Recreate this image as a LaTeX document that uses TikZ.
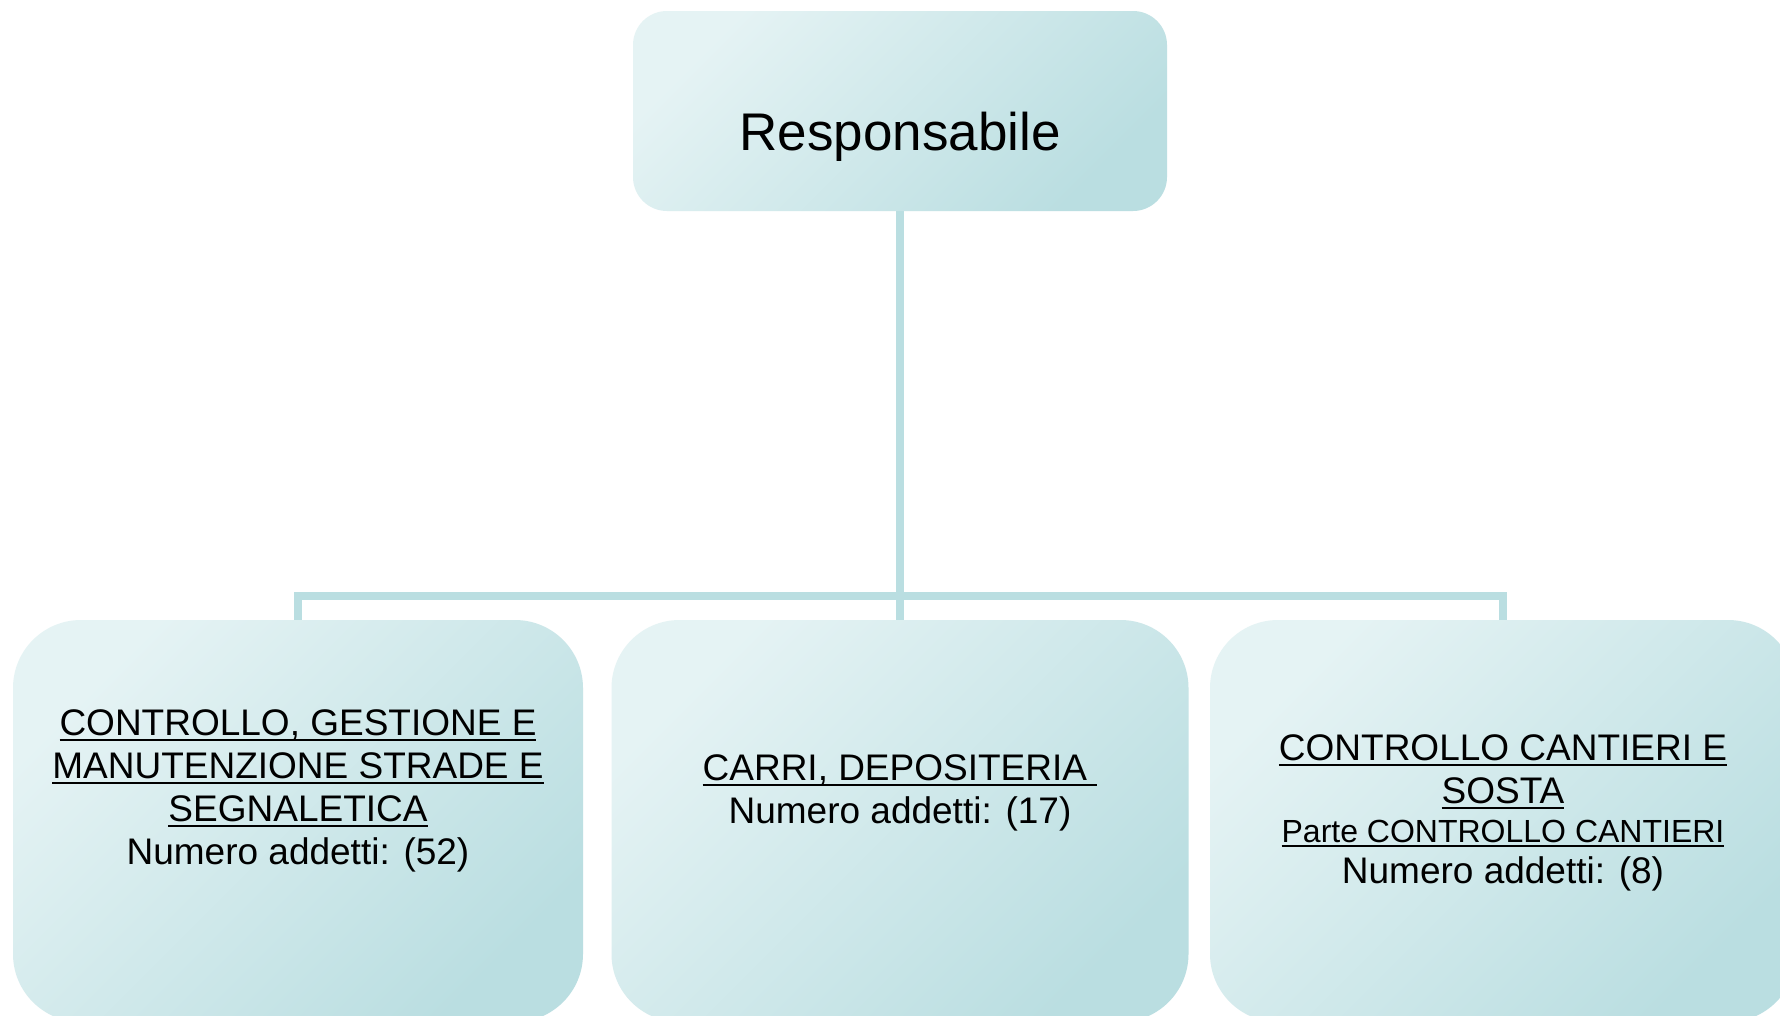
\documentclass[tikz,border=0pt]{standalone}
\usepackage{fontspec}
\setmainfont{Liberation Sans}
\usetikzlibrary{backgrounds}
\definecolor{boxlight}{RGB}{229,243,244}
\definecolor{boxdark}{RGB}{186,222,225}
\definecolor{connc}{RGB}{186,222,225}
\newcommand\ulx[2][5pt]{\setbox0\hbox{#2}\rlap{\rule[-#1]{\wd0}{1.8pt}}\box0}
\tikzset{
  orgbox/.style={shape=rectangle, inner sep=0pt, top color=boxlight, bottom color=boxdark, shading angle=45, draw=none},
  conn/.style={draw=connc, line width=8.5pt},
  boxtext/.style={inner sep=0pt, align=center, anchor=north, font=\fontsize{37}{43}\selectfont},
}
\begin{document}
\begin{tikzpicture}[x=1pt,y=-1pt]
\clip (0,0) rectangle (1780,1015);
% boxes
\node[orgbox, minimum width=534pt, minimum height=200pt, rounded corners=34pt] (top) at (900,111) {};
\node[orgbox, minimum width=570pt, minimum height=402pt, rounded corners=68pt] (left) at (298,821) {};
\node[orgbox, minimum width=577pt, minimum height=402pt, rounded corners=68pt] (mid) at (900,821) {};
\node[orgbox, minimum width=586pt, minimum height=402pt, rounded corners=68pt] (right) at (1503,821) {};
% connectors
\coordinate (hub) at (900,596);
\begin{scope}[on background layer]
\fill[white] (0,0) rectangle (1780,1015);
\draw[conn] (top.south) -- (mid.north);
\draw[conn] (left.north) |- (hub) -| (right.north);
\end{scope}
% texts
\node[inner sep=0pt, anchor=north, font=\fontsize{53}{60}\selectfont] (toptext) at ([yshift=-101pt]top.north) {Responsabile};
\node[boxtext] (lefttext) at ([yshift=-90pt]left.north) {\ulx{CONTROLLO, GESTIONE E}\\\ulx{MANUTENZIONE STRADE E}\\\ulx{SEGNALETICA}\\Numero addetti: (52)};
\node[boxtext] (midtext) at ([yshift=-135pt]mid.north) {\ulx{CARRI, DEPOSITERIA\ }\\Numero addetti: (17)};
\node[boxtext] (righttext) at ([yshift=-115pt]right.north) {\ulx{CONTROLLO CANTIERI E}\\\ulx{SOSTA}\\[-4.5pt]{\fontsize{32}{43}\selectfont\ulx[4.5pt]{Parte CONTROLLO CANTIERI}}\\[-1.5pt]Numero addetti: (8)};
\end{tikzpicture}
\end{document}
